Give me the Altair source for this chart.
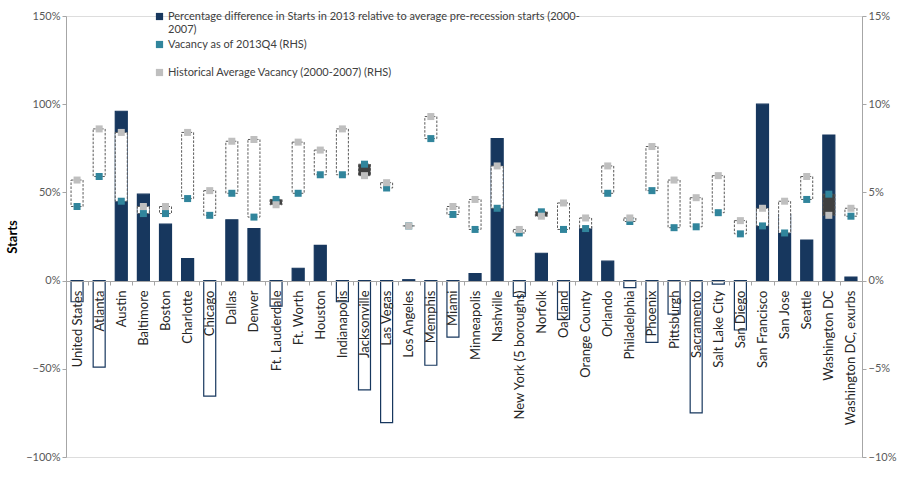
import altair as alt
import pandas as pd

cities = [
    "United States", "Atlanta", "Austin", "Baltimore", "Boston", "Charlotte",
    "Chicago", "Dallas", "Denver", "Ft. Lauderdale", "Ft. Worth", "Houston",
    "Indianapolis", "Jacksonville", "Las Vegas", "Los Angeles", "Memphis",
    "Miami", "Minneapolis", "Nashville", "New York (5 boroughs)", "Norfolk",
    "Oakland", "Orange County", "Orlando", "Philadelphia", "Phoenix",
    "Pittsburgh", "Sacramento", "Salt Lake City", "San Diego", "San Francisco",
    "San Jose", "Seattle", "Washington DC", "Washington DC, exurbs",
]

# % difference in 2013 starts vs. 2000-2007 average (left axis)
starts_pct = [
    -12, -49, 96, 49, 32, 12.5, -65.5, 34.5, 29.5, -14.5, 7, 20,
    -12, -62, -80.5, 0.5, -48, -32, 4, 80.5, -9, 15.5, -22, 30.5,
    11, -4, -35, -19, -75, -2, -28, 100, 37.5, 23, 82.5, 2,
]

# Vacancy as of 2013Q4, % (right axis)
vacancy_pct = [
    4.2, 5.9, 4.5, 3.8, 3.8, 4.65, 3.7, 4.95, 3.6, 4.6, 4.95, 6.0,
    6.0, 6.6, 5.25, 3.1, 8.05, 3.75, 2.9, 4.1, 2.7, 3.9, 2.9, 2.95,
    4.95, 3.35, 5.1, 3.0, 3.05, 3.85, 2.65, 3.1, 2.7, 4.6, 4.9, 3.65,
]

# Historical average vacancy 2000-2007, % (right axis)
hist_vacancy_pct = [
    5.7, 8.6, 8.4, 4.2, 4.2, 8.4, 5.1, 7.9, 8.0, 4.3, 7.85, 7.4,
    8.6, 5.95, 5.55, 3.1, 9.3, 4.2, 4.6, 6.5, 2.9, 3.65, 4.4, 3.55,
    6.5, 3.55, 7.6, 5.7, 4.7, 5.95, 3.4, 4.1, 4.5, 5.9, 3.7, 4.1,
]

S_STARTS = "Percentage difference in Starts in 2013 relative to average pre-recession starts (2000-2007)"
S_VAC = "Vacancy as of 2013Q4 (RHS)"
S_HIST = "Historical Average Vacancy (2000-2007) (RHS)"

NAVY = "#17375e"
TEAL = "#31859c"
GREY = "#bfbfbf"
FONT = "Lato"

df = pd.DataFrame({
    "city": cities,
    "starts": [v / 100 for v in starts_pct],
    "vac": [v / 100 for v in vacancy_pct],
    "hist": [v / 100 for v in hist_vacancy_pct],
})
df["s_starts"] = S_STARTS
df["s_vac"] = S_VAC
df["s_hist"] = S_HIST

fill_scale = alt.Scale(domain=[S_STARTS, S_VAC, S_HIST], range=[NAVY, TEAL, GREY])

legend = alt.Legend(
    title=None, orient="none", legendX=88, legendY=-5,
    symbolType="square", symbolSize=52, symbolStrokeWidth=0,
    labelFont=FONT, labelFontSize=11, labelColor="#404040", labelLimit=700,
    rowPadding=3, labelOffset=3, gridAlign="all",
    labelExpr=(
        "datum.label == '" + S_STARTS + "' ? "
        "['Percentage difference in Starts in 2013 relative to average pre-recession starts (2000-', '2007)'] "
        ": datum.label"
    ),
)

x_enc = alt.X(
    "city:N", sort=cities,
    scale=alt.Scale(paddingInner=0, paddingOuter=0),
    axis=alt.Axis(
        title=None, labelAngle=-90, labelAlign="right", labelBaseline="middle",
        offset=-176, tickBand="extent", tickSize=4, labelPadding=5,
        labelFont=FONT, labelFontSize=13, labelColor="#262626",
        domainColor="#a6a6a6", tickColor="#a6a6a6", zindex=1,
    ),
)

left_axis = alt.Axis(
    format=".0%", values=[-1, -0.5, 0, 0.5, 1, 1.5], grid=False,
    title="Starts", titleFont=FONT, titleFontSize=13, titleFontWeight="bold",
    titleColor="#000000", titlePadding=6,
    labelFont=FONT, labelFontSize=11, labelColor="#595959",
    domainColor="#a6a6a6", tickColor="#a6a6a6", tickSize=4,
)

right_axis = alt.Axis(
    orient="right", format=".0%", values=[-0.1, -0.05, 0, 0.05, 0.1, 0.15], grid=False,
    title="Vacancy", titleFont=FONT, titleFontSize=13, titleFontWeight="bold",
    titleColor="#000000", titlePadding=6,
    labelFont=FONT, labelFontSize=11, labelColor="#595959",
    domainColor="#a6a6a6", tickColor="#a6a6a6", tickSize=4,
)

right_scale = alt.Scale(domain=[-0.1, 0.15])

bars = alt.Chart(df).mark_bar(size=12, stroke=NAVY, strokeWidth=1.2).encode(
    x=x_enc,
    y=alt.Y("starts:Q", scale=alt.Scale(domain=[-1, 1.5]), axis=left_axis),
    fill=alt.condition(
        "datum.starts >= 0",
        alt.Fill("s_starts:N", scale=fill_scale, legend=legend),
        alt.value("white"),
    ),
)

# Up/down box spanning current and historical vacancy
boxes = alt.Chart(df).mark_bar(
    size=12, stroke="#595959", strokeWidth=1, strokeDash=[2.5, 1.5]
).encode(
    x=x_enc,
    y=alt.Y("vac:Q", scale=right_scale, axis=right_axis),
    y2="hist:Q",
    fill=alt.condition("datum.vac > datum.hist", alt.value("#404040"), alt.value("white")),
)

vac_pts = alt.Chart(df).mark_square(size=49, opacity=1).encode(
    x=x_enc,
    y=alt.Y("vac:Q", scale=right_scale, axis=right_axis),
    fill=alt.Fill("s_vac:N", scale=fill_scale, legend=legend),
)

hist_pts = alt.Chart(df).mark_square(size=49, opacity=1).encode(
    x=x_enc,
    y=alt.Y("hist:Q", scale=right_scale, axis=right_axis),
    fill=alt.Fill("s_hist:N", scale=fill_scale, legend=legend),
)

chart = alt.layer(
    bars, alt.layer(boxes, vac_pts, hist_pts)
).resolve_scale(y="independent").properties(
    width=796, height=441,
    autosize=alt.AutoSizeParams(type="none"),
    padding={"left": 66, "top": 16, "right": 36, "bottom": 23},
).configure_view(stroke=None).configure(background="white")

chart.save("out.html", embed_options={"renderer": "svg", "actions": False})
